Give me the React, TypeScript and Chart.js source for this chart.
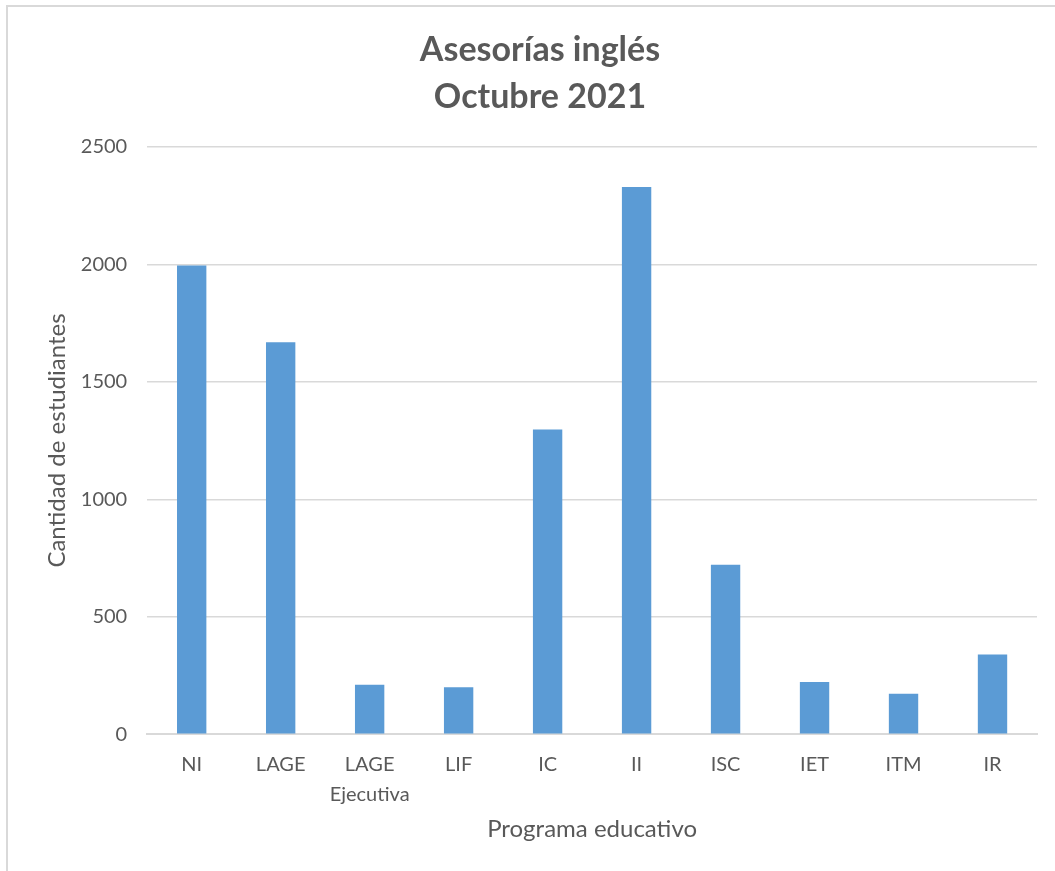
import React, { useEffect, useRef } from "react";
import { Chart, registerables } from "chart.js";

Chart.register(...registerables);

const categories: (string | string[])[] = ["NI", "LAGE", ["LAGE", "Ejecutiva"], "LIF", "IC", "II", "ISC", "IET", "ITM", "IR"];
const students: number[] = [1995, 1668, 211, 200, 1297, 2329, 721, 222, 172, 339];
const titleLines: string[] = ["Asesorías inglés", "Octubre 2021"];
const xTitle = "Programa educativo";
const yTitle = "Cantidad de estudiantes";

const FONT = "Lato, 'Open Sans', sans-serif";
const TEXT = "#595959";

export default function App() {
  const ref = useRef<HTMLCanvasElement | null>(null);

  useEffect(() => {
    document.body.style.margin = "0";
    if (!ref.current) return;
    const chart = new Chart(ref.current, {
      type: "bar",
      data: {
        labels: categories,
        datasets: [
          {
            label: "Estudiantes",
            data: students,
            backgroundColor: "#5b9bd5",
            categoryPercentage: 1,
            barPercentage: 0.33,
          },
        ],
      },
      options: {
        responsive: false,
        animation: false,
        maintainAspectRatio: false,
        layout: { padding: { left: 43, right: 18, top: 27, bottom: 27 } },
        plugins: {
          legend: { display: false },
          tooltip: { enabled: false },
          title: {
            display: true,
            text: titleLines,
            color: TEXT,
            font: { family: FONT, size: 34, weight: "bold", lineHeight: 1.38 },
            padding: { top: 0, bottom: 26 },
          },
        },
        scales: {
          x: {
            grid: { display: false, drawTicks: false },
            border: { display: true, color: "#d9d9d9", width: 2 },
            ticks: {
              color: TEXT,
              font: { family: FONT, size: 20, lineHeight: 1.5 },
              padding: 15,
              maxRotation: 0,
              autoSkip: false,
            },
            title: {
              display: true,
              text: xTitle,
              color: TEXT,
              font: { family: FONT, size: 24, lineHeight: 1.2 },
              padding: { top: -9, bottom: 0 },
            },
          },
          y: {
            min: 0,
            max: 2500,
            grid: { color: "#d9d9d9", lineWidth: 1.5, drawTicks: false },
            border: { display: false },
            ticks: {
              stepSize: 500,
              color: TEXT,
              font: { family: FONT, size: 20 },
              padding: 20,
              callback: (v) => String(v),
            },
            title: {
              display: true,
              text: yTitle,
              color: TEXT,
              font: { family: FONT, size: 24, lineHeight: 1.2 },
              padding: { top: 0, bottom: -11 },
            },
          },
        },
      },
    });
    return () => chart.destroy();
  }, []);

  return (
    <div style={{ position: "relative", width: 1055, height: 871, background: "#fff" }}>
      <div
        style={{
          position: "absolute",
          left: 6,
          top: 5,
          right: 0,
          bottom: 0,
          borderLeft: "2px solid #d9d9d9",
          borderTop: "2px solid #d9d9d9",
        }}
      />
      <canvas ref={ref} width={1055} height={871} style={{ position: "absolute", left: 0, top: 0 }} />
    </div>
  );
}
